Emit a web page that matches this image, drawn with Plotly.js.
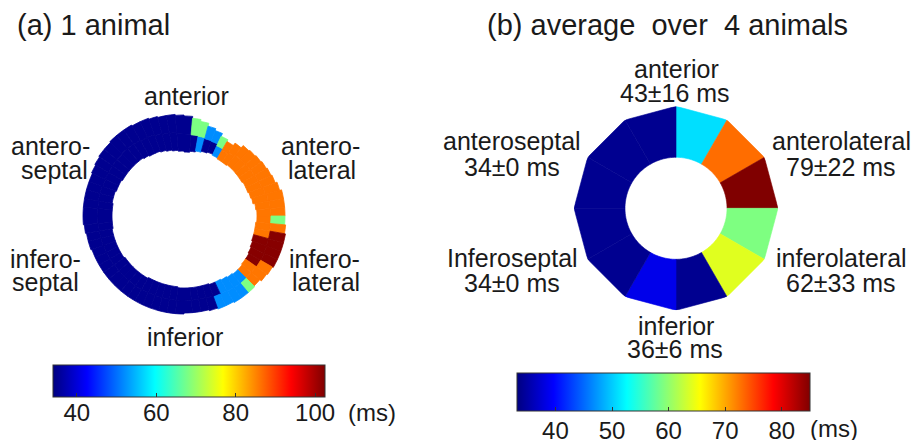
<!DOCTYPE html>
<html>
<head>
<meta charset="utf-8">
<script src="https://cdn.plot.ly/plotly-3.0.1.min.js"></script>
<style>html,body{margin:0;padding:0;background:#fff;}#chart{width:917px;height:440px;}</style>
</head>
<body>
<div id="chart"></div>
<script>
// ---------- Panel (a): one animal, ring sampled in 5-degree bins (clockwise from top) ----------
const thetaA = [2.5,7.5,12.5,17.5,22.5,27.5,32.5,37.5,42.5,47.5,52.5,57.5,62.5,67.5,72.5,77.5,82.5,87.5,
  92.5,97.5,102.5,107.5,112.5,117.5,122.5,127.5,132.5,137.5,142.5,147.5,152.5,157.5,162.5,167.5,172.5,177.5,
  182.5,187.5,192.5,197.5,202.5,207.5,212.5,217.5,222.5,227.5,232.5,237.5,242.5,247.5,252.5,257.5,262.5,267.5,
  272.5,277.5,282.5,287.5,292.5,297.5,302.5,307.5,312.5,317.5,322.5,327.5,332.5,337.5,342.5,347.5,352.5,357.5];
const innerA = [64,65,66,67,68,67,66,66,67,67,67,67,68,68,69,70,72,73,
  73,72,72,72,73,74,75,75,76,76,75,74,73,73,72,72,72,72,
  72,71,71,71,71,71,72,72,72,72,72,73,73,73,73,73,72,72,
  72,72,73,73,72,72,71,71,71,71,71,70,69,69,68,67,66,65];
const outerA = [100,98,96,93,91,88,86,89,92,93,94,95,96,97,99,101,101,101,
  101,102,103,103,103,103,102,101,99,100,100,100,99,99,98,97,97,97,
  98,98,98,98,98,98,98,98,98,98,98,98,98,98,99,99,100,101,
  101,101,101,101,101,102,103,104,104,105,105,105,104,104,103,102,102,101];
// activation time (ms), inner half and outer half of the wall
const msInnerA = [35,35,52,35,35,52,86,86,86,86,86,86,86,86,86,86,86,86,
  86,86,86,102,102,102,102,86,86,52,52,52,52,35,35,35,35,35,
  35,35,35,35,35,35,35,35,35,35,35,35,35,35,35,35,35,35,
  35,35,35,35,35,35,35,35,35,35,35,35,35,35,35,35,35,35];
const msOuterA = [35,68,68,52,52,68,86,86,86,86,86,86,86,86,86,86,86,86,
  68,86,102,102,102,102,86,86,86,68,52,52,52,52,35,35,35,35,
  35,35,35,35,35,35,35,35,35,35,35,35,35,35,35,35,35,35,
  35,35,35,35,35,35,35,35,35,35,35,35,35,35,35,35,35,35];
const ticksA = [40, 60, 80, 100];
const rangeA = [34, 102.5];

// ---------- Panel (b): average over 4 animals, 12 half-segments clockwise from top ----------
const segmentsB = ['anterior-2','anterolateral-1','anterolateral-2','inferolateral-1','inferolateral-2',
  'inferior-1','inferior-2','inferoseptal-1','inferoseptal-2','anteroseptal-1','anteroseptal-2','anterior-1'];
const msB = [51, 73, 85, 59, 64, 34, 38.6, 34, 34, 34, 34, 34];
const ticksB = [40, 50, 60, 70, 80];
const rangeB = [33.2, 85];

// ---------- Text ----------
const titleA = '(a) 1 animal';
const titleB = '(b) average\u00a0\u00a0over\u00a0\u00a04 animals';
const labelsA = ['anterior','antero-','septal','antero-','lateral','infero-','septal','infero-','lateral','inferior'];
const labelsB = ['anterior','43±16 ms','anteroseptal','34±0 ms','anterolateral','79±22 ms',
  'Inferoseptal','34±0 ms','inferolateral','62±33 ms','inferior','36±6 ms'];
const unitText = '(ms)';

// ---------- Layout helpers ----------
const W = 917, H = 440;
const FONT = 'Liberation Sans, Arial, Helvetica, sans-serif';
const TXT = '#1a1a1a';
const jet = [[0,[0,0,128]],[0.125,[0,0,255]],[0.375,[0,255,255]],
             [0.625,[255,255,0]],[0.875,[255,0,0]],[1,[128,0,0]]];
const jetScale = jet.map(s => [s[0], 'rgb(' + s[1].join(',') + ')']);

function jetColor(v, lo, hi) {
  let t = Math.max(0, Math.min(1, (v - lo) / (hi - lo)));
  for (let i = 1; i < jet.length; i++) {
    if (t <= jet[i][0]) {
      const a = jet[i - 1], b = jet[i];
      const f = (t - a[0]) / (b[0] - a[0]);
      const c = a[1].map((x, j) => Math.round(x + (b[1][j] - x) * f));
      return 'rgb(' + c.join(',') + ')';
    }
  }
  return 'rgb(128,0,0)';
}

function ann(text, xpx, basePx, size, xanchor) {
  return {xref:'paper', yref:'paper', x: xpx / W, y: 1 - (basePx - 0.3465 * size) / H,
    xanchor: xanchor || 'center', yanchor:'middle', text: text, showarrow:false,
    font:{family:FONT, size:size, color:TXT}};
}

// panel (a) trace: inner and outer halves of the wall
const thA = [], baseA = [], thickA = [], colA = [];
for (let i = 0; i < thetaA.length; i++) {
  const mid = (innerA[i] + outerA[i]) / 2;
  thA.push(thetaA[i]); baseA.push(innerA[i]); thickA.push(mid - innerA[i]); colA.push(msInnerA[i]);
  thA.push(thetaA[i]); baseA.push(mid); thickA.push(outerA[i] - mid); colA.push(msOuterA[i]);
}

const traces = [];
traces.push({
  type:'barpolar', subplot:'polar', theta: thA, r: thickA, base: baseA, width: 5,
  marker:{color: colA, coloraxis:'coloraxis',
    line:{color: colA, colorscale: jetScale, cmin: rangeA[0], cmax: rangeA[1], width: 0.8}},
  hoverinfo:'skip'
});

// panel (b): each half-segment as a filled polygon (straight outer edge, round inner edge)
const HOLE = 0.5;
const segW = 360 / segmentsB.length;
segmentsB.forEach((name, k) => {
  const t0 = k * segW, t1 = (k + 1) * segW;
  const th = [t0, t1], rr = [1, 1];
  for (let a = t1; a >= t0 - 1e-9; a -= 2) { th.push(a); rr.push(HOLE); }
  th.push(t0); rr.push(1);
  const col = jetColor(msB[k], rangeB[0], rangeB[1]);
  traces.push({type:'scatterpolar', subplot:'polar2', name: name, theta: th, r: rr, mode:'lines',
    fill:'toself', fillcolor: col, line:{color: col, width: 0.6}, hoverinfo:'skip'});
});
// invisible markers carrying the values for the colour bar of panel (b)
traces.push({type:'scatterpolar', subplot:'polar2', theta: segmentsB.map((s, k) => (k + 0.5) * segW),
  r: segmentsB.map(() => 0.75), mode:'markers',
  marker:{color: msB, coloraxis:'coloraxis2', size: 2, opacity: 0}, hoverinfo:'skip'});

// empty traces so the two colour-scale label axes are drawn
traces.push({type:'scatter', x:[], y:[], xaxis:'x', yaxis:'y', hoverinfo:'skip'});
traces.push({type:'scatter', x:[], y:[], xaxis:'x2', yaxis:'y2', hoverinfo:'skip'});

const hiddenRadial = {visible:true, showline:false, showgrid:false, showticklabels:false, ticks:''};
const hiddenAngular = {rotation:90, direction:'clockwise', showline:false, showgrid:false, showticklabels:false, ticks:''};

// geometry (pixels)
const cA = {x:184, y:216, R:110};
const cB = {x:676, y:208.3, R:102};
const barA = {x0:53, x1:325, y0:365, y1:397};
const barB = {x0:517, x1:810, y0:373, y1:411};

const annotations = [
  ann(titleA, 15, 35, 29, 'left'),
  ann(titleB, 485, 35, 29, 'left'),
  ann(labelsA[0], 186, 105, 25),
  ann(labelsA[1], 50, 155, 25), ann(labelsA[2], 54, 179, 25),
  ann(labelsA[3], 320, 155, 25), ann(labelsA[4], 322, 179, 25),
  ann(labelsA[5], 45, 268, 25), ann(labelsA[6], 45, 291, 25),
  ann(labelsA[7], 324, 268, 25), ann(labelsA[8], 326, 291, 25),
  ann(labelsA[9], 185, 346, 25),
  ann(labelsB[0], 676, 78, 25), ann(labelsB[1], 675, 102, 25),
  ann(labelsB[2], 512, 150, 25), ann(labelsB[3], 512, 176, 25),
  ann(labelsB[4], 841, 150, 25), ann(labelsB[5], 841, 176, 25),
  ann(labelsB[6], 512, 267, 25), ann(labelsB[7], 512, 292, 25),
  ann(labelsB[8], 841, 267, 25), ann(labelsB[9], 841, 292, 25),
  ann(labelsB[10], 676, 335, 25), ann(labelsB[11], 675, 358, 25),
  ann(unitText, 372, 421, 24), ann(unitText, 834, 437, 24)
];

const cbCommon = {orientation:'h', thicknessmode:'pixels', lenmode:'pixels', xanchor:'left', yanchor:'top',
  xpad:0, ypad:0, outlinewidth:1, outlinecolor:'#333', ticks:'inside', ticklen:4, tickcolor:'#333',
  showticklabels:false, tickmode:'array'};

function labelAxis(bar, range, ticks, standoff) {
  return {domain:[bar.x0 / W, bar.x1 / W], range: range, tickmode:'array', tickvals: ticks,
    ticks:'', showline:false, showgrid:false, zeroline:false, fixedrange:true,
    ticklabelstandoff: standoff, tickfont:{family:FONT, size:24, color:TXT}};
}
function hiddenY(bar) {
  return {domain:[1 - bar.y1 / H, 1 - bar.y0 / H], visible:false, fixedrange:true, range:[0, 1]};
}

const layout = {
  width: W, height: H, margin:{l:0, r:0, t:0, b:0, pad:0, autoexpand:false},
  paper_bgcolor:'#fff', plot_bgcolor:'rgba(0,0,0,0)', showlegend:false,
  font:{family:FONT, color:TXT},
  xaxis: Object.assign(labelAxis(barA, rangeA, ticksA, -1), {anchor:'y'}),
  yaxis: Object.assign(hiddenY(barA), {anchor:'x'}),
  xaxis2: Object.assign(labelAxis(barB, rangeB, ticksB, 3), {anchor:'y2'}),
  yaxis2: Object.assign(hiddenY(barB), {anchor:'x2'}),
  polar:{
    domain:{x:[(cA.x - cA.R) / W, (cA.x + cA.R) / W], y:[(H - cA.y - cA.R) / H, (H - cA.y + cA.R) / H]},
    bgcolor:'rgba(0,0,0,0)', barmode:'overlay',
    radialaxis:Object.assign({range:[0, 110]}, hiddenRadial),
    angularaxis:hiddenAngular
  },
  polar2:{
    domain:{x:[(cB.x - cB.R) / W, (cB.x + cB.R) / W], y:[(H - cB.y - cB.R) / H, (H - cB.y + cB.R) / H]},
    bgcolor:'rgba(0,0,0,0)',
    radialaxis:Object.assign({range:[0, 1]}, hiddenRadial),
    angularaxis:hiddenAngular
  },
  coloraxis:{colorscale: jetScale, cmin: rangeA[0], cmax: rangeA[1],
    colorbar:Object.assign({}, cbCommon, {x: barA.x0 / W, y: 1 - barA.y0 / H, len: barA.x1 - barA.x0,
      thickness: barA.y1 - barA.y0, tickvals: ticksA})},
  coloraxis2:{colorscale: jetScale, cmin: rangeB[0], cmax: rangeB[1],
    colorbar:Object.assign({}, cbCommon, {x: barB.x0 / W, y: 1 - barB.y0 / H, len: barB.x1 - barB.x0,
      thickness: barB.y1 - barB.y0, tickvals: ticksB})},
  annotations: annotations
};

Plotly.newPlot('chart', traces, layout, {displayModeBar:false, staticPlot:true});
</script>
</body>
</html>
